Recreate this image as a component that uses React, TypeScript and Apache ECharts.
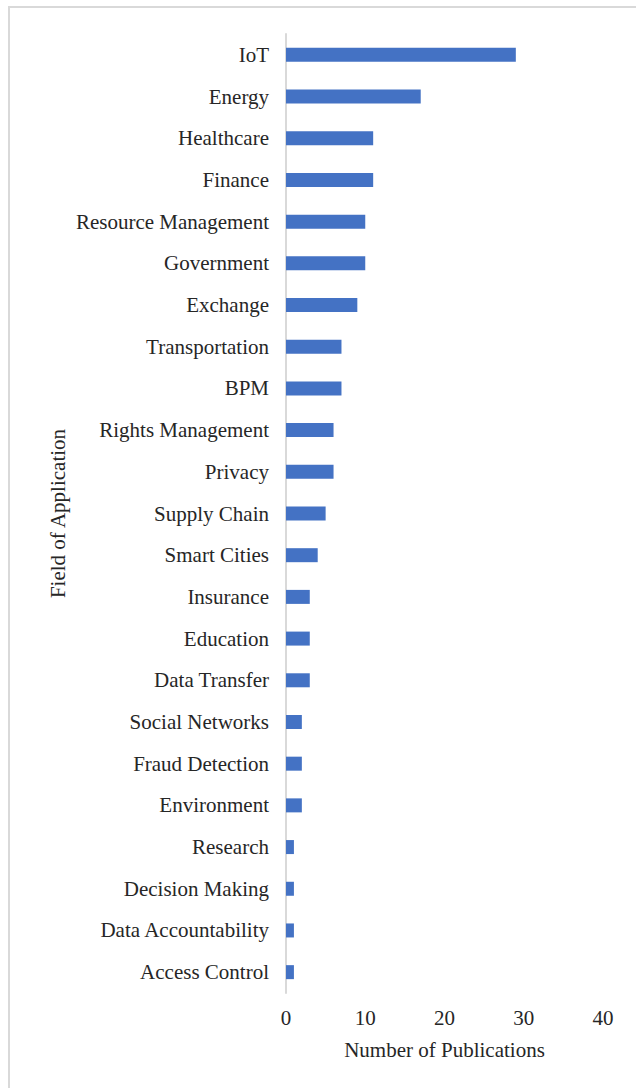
import React, { useEffect, useRef } from "react";
import * as echarts from "echarts";

const categories = [
  "IoT", "Energy", "Healthcare", "Finance", "Resource Management", "Government",
  "Exchange", "Transportation", "BPM", "Rights Management", "Privacy", "Supply Chain",
  "Smart Cities", "Insurance", "Education", "Data Transfer", "Social Networks",
  "Fraud Detection", "Environment", "Research", "Decision Making",
  "Data Accountability", "Access Control",
];
const publications = [29, 17, 11, 11, 10, 10, 9, 7, 7, 6, 6, 5, 4, 3, 3, 3, 2, 2, 2, 1, 1, 1, 1];
const xTicks = [0, 10, 20, 30, 40];

export default function App() {
  const ref = useRef<HTMLDivElement>(null);
  useEffect(() => {
    if (!ref.current) return;
    const chart = echarts.init(ref.current, null, { renderer: "svg" });
    const font = "'Liberation Serif', 'Times New Roman', serif";
    const fs = 21;
    chart.setOption({
      animation: false,
      backgroundColor: "#ffffff",
      textStyle: { fontFamily: font },
      graphic: [
        {
          type: "rect",
          shape: { x: 9, y: 7, width: 800, height: 1200 },
          style: { fill: "none", stroke: "#d9d9d9", lineWidth: 2 },
          silent: true,
        },
      ],
      grid: { left: 286, right: 33, top: 34, bottom: 95, containLabel: false },
      xAxis: {
        type: "value",
        min: xTicks[0],
        max: xTicks[xTicks.length - 1],
        interval: 10,
        name: "Number of Publications",
        nameLocation: "middle",
        nameGap: 46,
        nameTextStyle: { fontFamily: font, fontSize: fs, color: "#262626" },
        axisLine: { show: false },
        axisTick: { show: false },
        splitLine: { show: false },
        axisLabel: { fontFamily: font, fontSize: fs, color: "#262626", margin: 14 },
      },
      yAxis: {
        type: "category",
        inverse: true,
        data: categories,
        name: "Field of Application",
        nameLocation: "middle",
        nameGap: 218,
        nameRotate: 90,
        nameTextStyle: { fontFamily: font, fontSize: fs, color: "#262626" },
        axisLine: { show: true, lineStyle: { color: "#d9d9d9", width: 2 } },
        axisTick: { show: false },
        axisLabel: { fontFamily: font, fontSize: fs, color: "#262626", margin: 17 },
      },
      series: [
        {
          type: "bar",
          data: publications,
          barWidth: 14,
          itemStyle: { color: "#4472c4" },
        },
      ],
    });
    return () => chart.dispose();
  }, []);
  return (
    <div
      ref={ref}
      style={{ position: "absolute", left: 0, top: 0, width: 636, height: 1088 }}
    />
  );
}
